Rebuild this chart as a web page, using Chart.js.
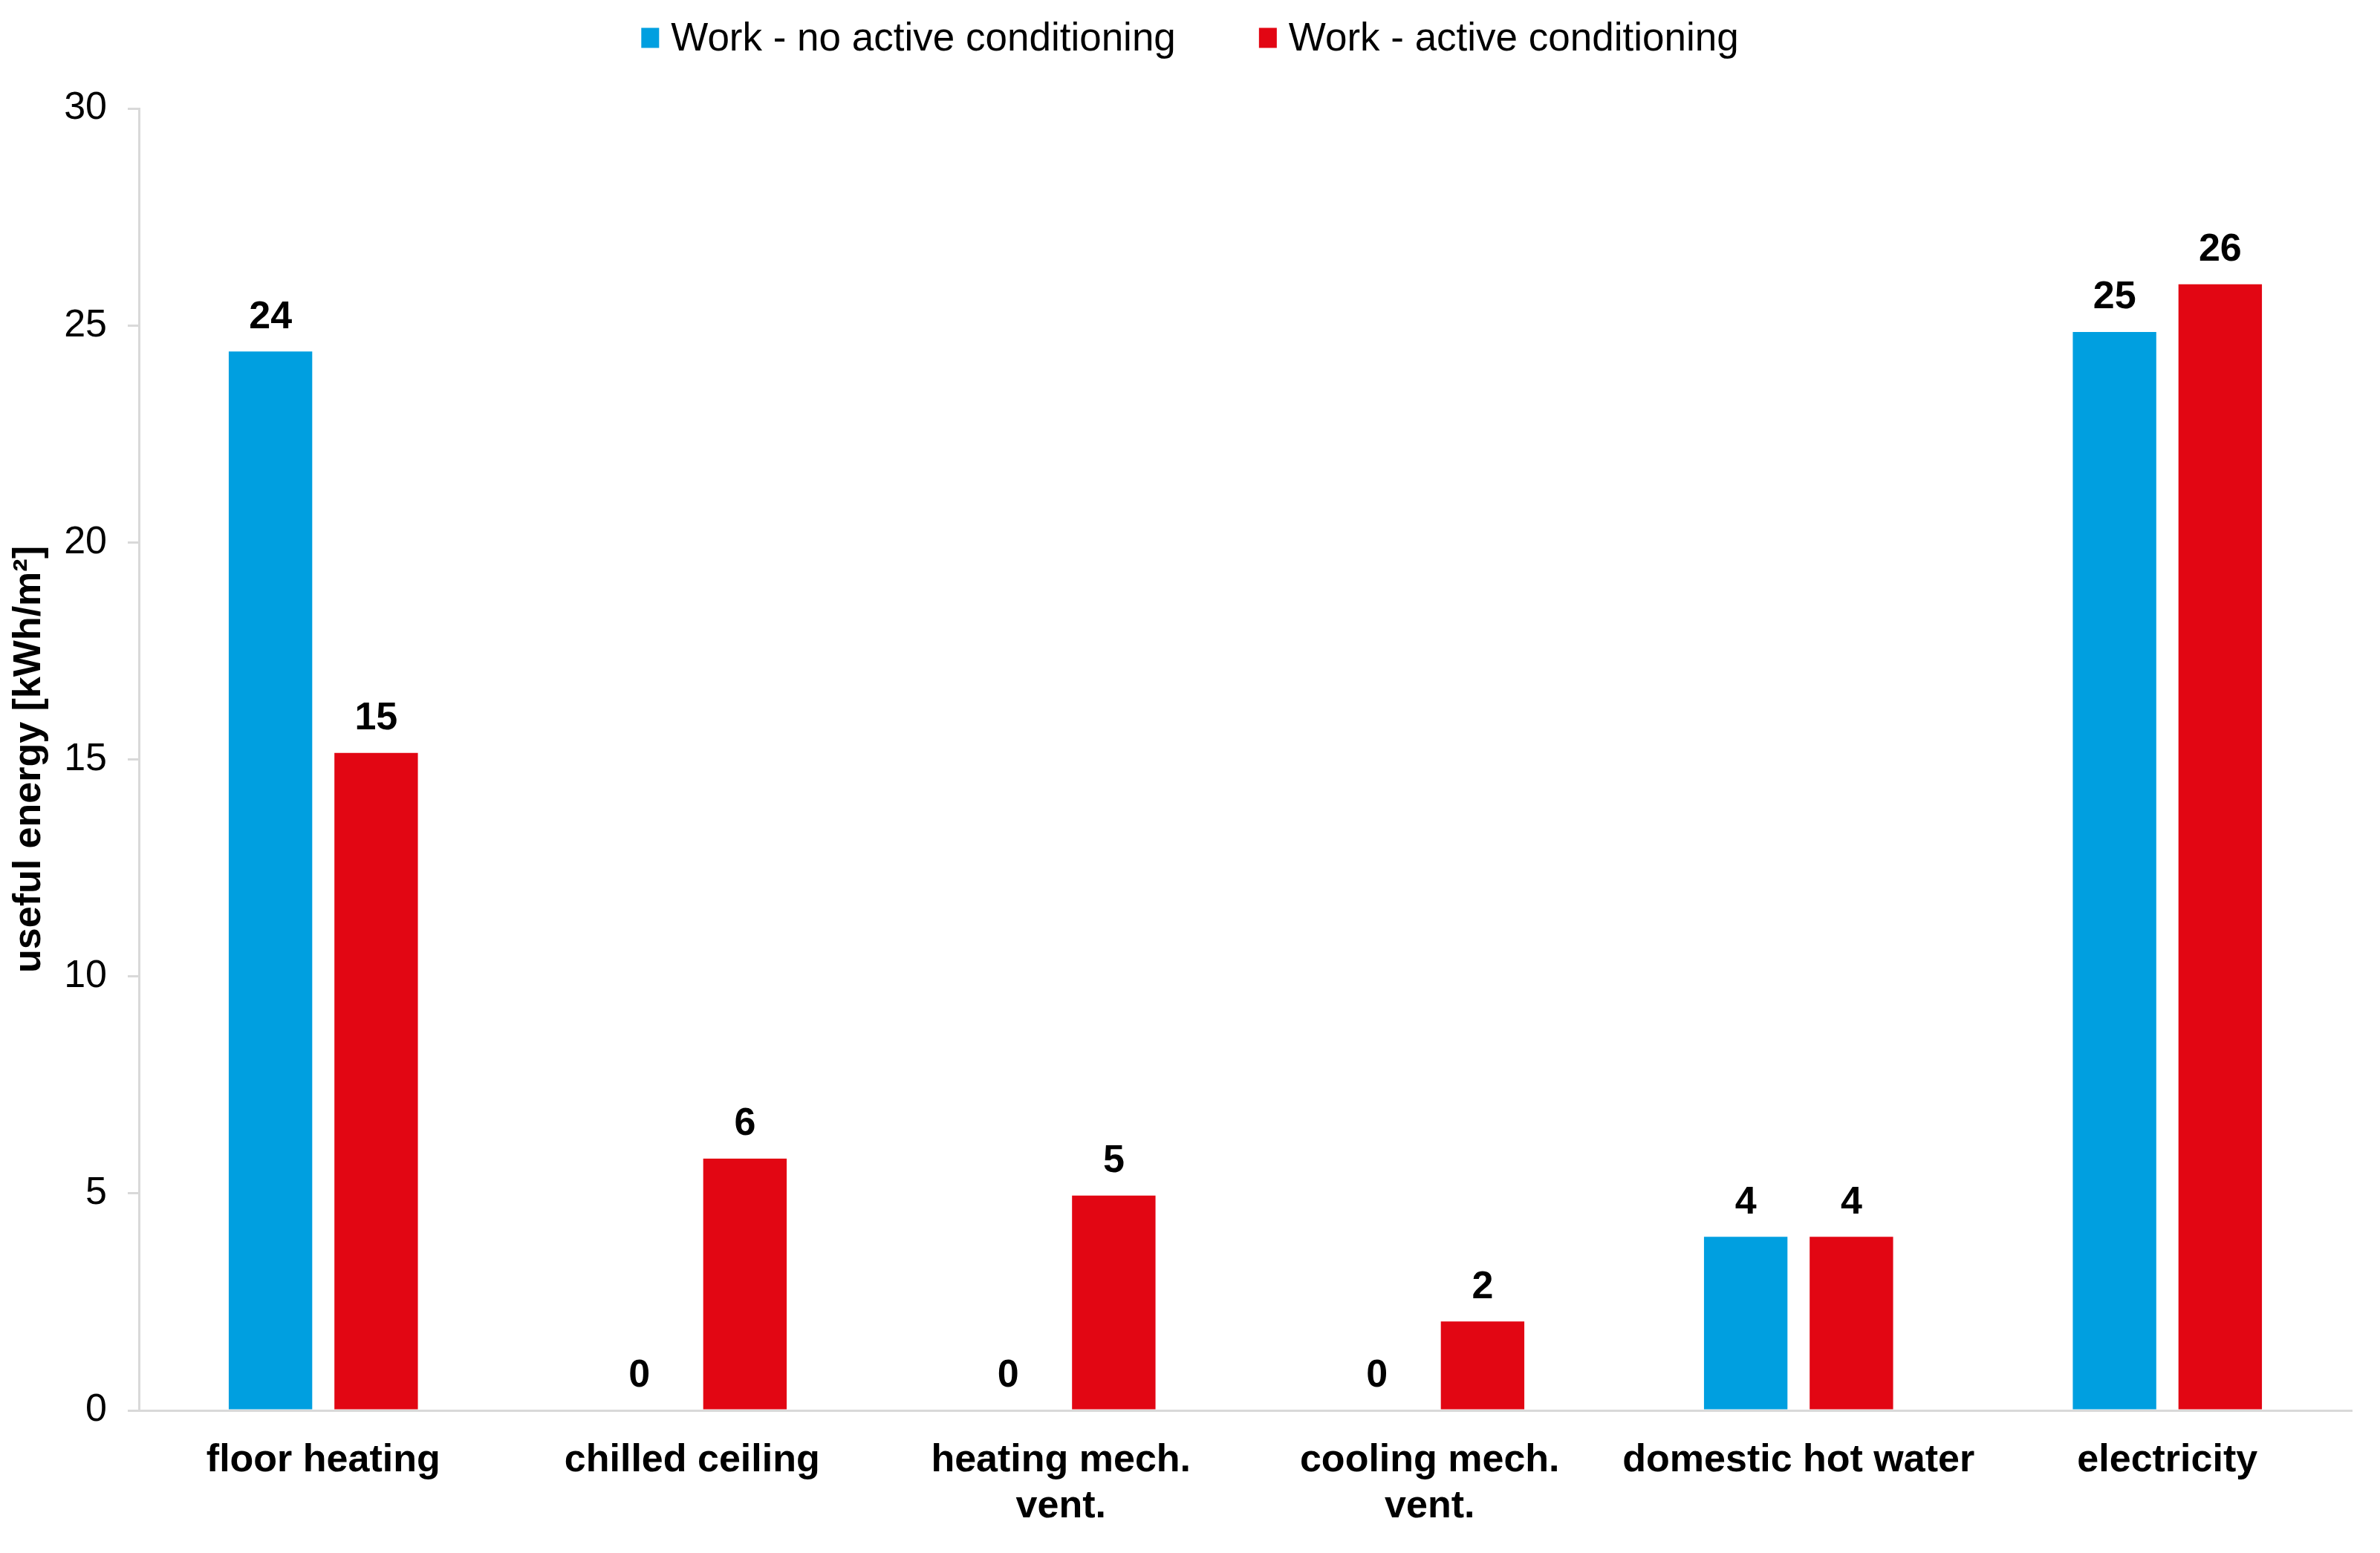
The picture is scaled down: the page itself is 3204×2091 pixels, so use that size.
<!DOCTYPE html>
<html>
<head>
<meta charset="utf-8">
<title>Useful energy</title>
<script src="https://cdn.jsdelivr.net/npm/chart.js@4.4.1/dist/chart.umd.min.js"></script>
<style>
    html, body { margin: 0; padding: 0; background: #fff; }
    #energyChart { display: block; }
</style>
</head>
<body>
<canvas id="energyChart" width="3204" height="2091"></canvas>
<script>
// Data
const categories = [
    'floor heating',
    'chilled ceiling',
    ['heating mech.', 'vent.'],
    ['cooling mech.', 'vent.'],
    'domestic hot water',
    'electricity'
];
const noConditioning = [24.4, 0, 0, 0, 4.0, 24.85];
const activeConditioning = [15.15, 5.8, 4.95, 2.05, 4.0, 25.95];
const yTicks = [0, 5, 10, 15, 20, 25, 30];

const seriesLabels = ['Work - no active conditioning', 'Work - active conditioning'];
const seriesColors = ['#009FE0', '#E20613'];

Chart.defaults.font.family = '"Liberation Sans", Arial, sans-serif';
Chart.defaults.font.size = 52;
Chart.defaults.color = '#000';

// value labels on top of every bar
const barValueLabels = {
    id: 'barValueLabels',
    afterDatasetsDraw(chart) {
        const ctx = chart.ctx;
        ctx.save();
        ctx.font = 'bold 52px "Liberation Sans", Arial, sans-serif';
        ctx.fillStyle = '#000';
        ctx.textAlign = 'center';
        ctx.textBaseline = 'bottom';
        chart.data.datasets.forEach((ds, i) => {
            const meta = chart.getDatasetMeta(i);
            meta.data.forEach((bar, j) => {
                ctx.fillText(String(Math.round(ds.data[j])), bar.x, bar.y - 20);
            });
        });
        ctx.restore();
    }
};

// simple legend centered on top of the canvas
const topLegend = {
    id: 'topLegend',
    afterDraw(chart) {
        const ctx = chart.ctx;
        const boxW = 24, boxH = 27, textGap = 16, itemGap = 112, cy = 51;
        ctx.save();
        ctx.font = '53px "Liberation Sans", Arial, sans-serif';
        ctx.textBaseline = 'middle';
        ctx.textAlign = 'left';
        const items = chart.data.datasets.map(ds => ({
            label: ds.label,
            color: ds.backgroundColor,
            w: boxW + textGap + ctx.measureText(ds.label).width
        }));
        const total = items.reduce((s, it) => s + it.w, 0) + itemGap * (items.length - 1);
        let x = (chart.width - total) / 2;
        items.forEach(it => {
            ctx.fillStyle = it.color;
            ctx.fillRect(x, cy - boxH / 2, boxW, boxH);
            ctx.fillStyle = '#000';
            ctx.fillText(it.label, x + boxW + textGap, cy + 2);
            x += it.w + itemGap;
        });
        ctx.restore();
    }
};

function renderEnergyChart() {
    const ctx = document.getElementById('energyChart').getContext('2d');

    new Chart(ctx, {
        type: 'bar',
        data: {
            labels: categories,
            datasets: [
                {
                    label: seriesLabels[0],
                    data: noConditioning,
                    backgroundColor: seriesColors[0],
                    categoryPercentage: 0.573,
                    barPercentage: 0.79
                },
                {
                    label: seriesLabels[1],
                    data: activeConditioning,
                    backgroundColor: seriesColors[1],
                    categoryPercentage: 0.573,
                    barPercentage: 0.79
                }
            ]
        },
        options: {
            responsive: false,
            animation: false,
            devicePixelRatio: 1,
            layout: { padding: { top: 146, right: 38, bottom: 0, left: 0 } },
            plugins: {
                legend: { display: false },
                tooltip: { enabled: false }
            },
            scales: {
                x: {
                    grid: { display: false },
                    border: { display: true, color: '#d9d9d9', width: 3 },
                    ticks: {
                        font: { weight: 'bold', size: 52 },
                        padding: 28,
                        maxRotation: 0,
                        autoSkip: false
                    },
                    afterFit(scale) { scale.height = 192; }
                },
                y: {
                    min: 0,
                    max: 30,
                    afterBuildTicks(scale) {
                        scale.ticks = yTicks.map(v => ({ value: v }));
                    },
                    grid: {
                        drawOnChartArea: false,
                        drawTicks: true,
                        tickLength: 15,
                        color: '#d9d9d9',
                        lineWidth: 3
                    },
                    border: { display: true, color: '#d9d9d9', width: 3 },
                    ticks: { padding: 28, font: { size: 52 } },
                    title: {
                        display: true,
                        text: 'useful energy [kWh/m²]',
                        font: { weight: 'bold', size: 52 },
                        padding: { top: 8, bottom: 0 }
                    },
                    afterFit(scale) { scale.width = 187; }
                }
            }
        },
        plugins: [barValueLabels, topLegend]
    });

    console.log('Energy chart drawn.');
}

document.addEventListener('DOMContentLoaded', function () {
    renderEnergyChart();
});
</script>
</body>
</html>
